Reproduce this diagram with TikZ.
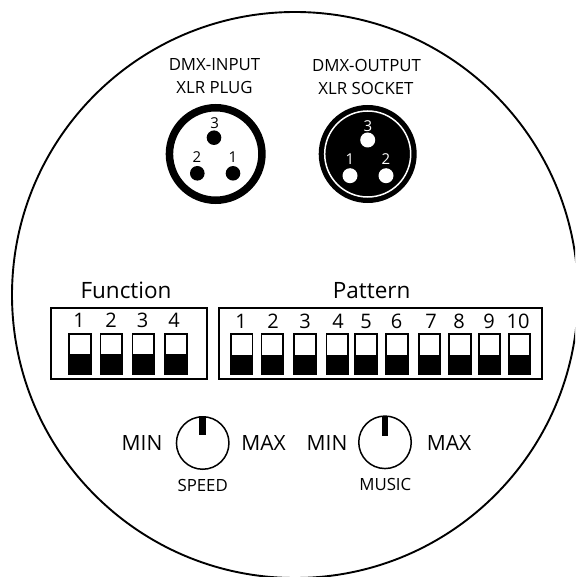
\documentclass[tikz,border=0pt]{standalone}
\usepackage{fontspec}
\setmainfont{Open Sans}
\tikzset{
 px/.style={x=1pt,y=-1pt},
 lab/.style={inner sep=0pt,text=black},
 smalllab/.style={lab,font=\fontsize{16.8}{20}\selectfont},
 pinnum/.style={lab,font=\fontsize{15}{18}\selectfont},
 dipnum/.style={lab,font=\fontsize{20}{24}\selectfont},
 biglab/.style={lab,font=\fontsize{22.5}{26}\selectfont},
 rangelab/.style={lab,font=\fontsize{21}{24}\selectfont},
 plugpin/.style={circle,fill=black,draw=none,minimum size=14.6pt,inner sep=0pt},
 sockpin/.style={circle,fill=white,draw=none,minimum size=15pt,inner sep=0pt},
 knob/.style={circle,draw=black,line width=1.5pt,minimum size=52.5pt,inner sep=0pt},
 frame/.style={draw=black,line width=1.6pt,fill=white},
}
\newcommand{\dipsw}[2]{%
 \draw[black,line width=1.8pt,fill=white] (#1-10.8,#2+0.9) rectangle (#1+10.8,#2+41);
 \fill[black] (#1-11.7,#2+21.7) rectangle (#1+11.7,#2+41.9);
}
\begin{document}
\begin{tikzpicture}[px]
\useasboundingbox (0,0) rectangle (575,577);
\fill[white] (0,0) rectangle (575,577);
\begin{scope}
\clip (0,0) rectangle (575,577);
\draw[line width=1.9pt] (295,295) circle (283);
\end{scope}
\node[smalllab] (t1) at (214.5,65) {DMX-INPUT};
\node[smalllab] (t2) at (214.5,88) {XLR PLUG};
\node[smalllab] (t3) at (366.5,65) {DMX-OUTPUT};
\node[smalllab] (t4) at (366,88) {XLR SOCKET};
\draw[line width=7.5pt] (215.7,154) circle (46.25);
\node[plugpin] (p3) at (214,137.7) {};
\node[plugpin] (p2) at (197.3,173.3) {};
\node[plugpin] (p1) at (233,173.3) {};
\node[pinnum] at (214.7,123) {3};
\node[pinnum] at (197,157) {2};
\node[pinnum] at (233,157) {1};
\fill (367.7,154) circle (49);
\draw[white,line width=1.5pt] (367.7,154) circle (43);
\node[sockpin] (s3) at (367.7,140) {};
\node[sockpin] (s1) at (350,175.7) {};
\node[sockpin] (s2) at (386,175.7) {};
\node[pinnum,text=white] at (368,125.7) {3};
\node[pinnum,text=white] at (350,159) {1};
\node[pinnum,text=white] at (386,159) {2};
\node[biglab] at (126,290.7) {Function};
\node[biglab] at (371.7,290.7) {Pattern};
\draw[frame] (50.7,307.7) rectangle (207,379);
\draw[frame] (219,307.7) rectangle (542,378.7);
\foreach \n/\x/\c in {1/79/80,2/111/111.2,3/142.7/143.3,4/174/175.8}{
 \node[dipnum] at (\x,320.7) {\n};
 \dipsw{\c}{332.7}
}
\foreach \n/\x/\c in {1/241/241.7,2/273/272.3,3/305/305,4/338/337.3,5/366/366,6/396.7/397,7/431/429.5,8/459/460,9/489/489.5,10/518/519.5}{
 \node[dipnum] at (\x,321.7) {\n};
 \dipsw{\c}{333.3}
}
\node[knob] (k1) at (202.7,443) {};
\node[knob] (k2) at (385,442.3) {};
\fill (199.3,416) rectangle (206,435);
\fill (381.7,415.5) rectangle (388.3,435.7);
\node[rangelab] at (142,443.3) {MIN};
\node[rangelab] at (263.5,443.3) {MAX};
\node[rangelab] at (327,443.3) {MIN};
\node[rangelab] at (449,443.3) {MAX};
\node[smalllab] at (202.7,485) {SPEED};
\node[smalllab] at (385.3,484) {MUSIC};
\end{tikzpicture}
\end{document}
